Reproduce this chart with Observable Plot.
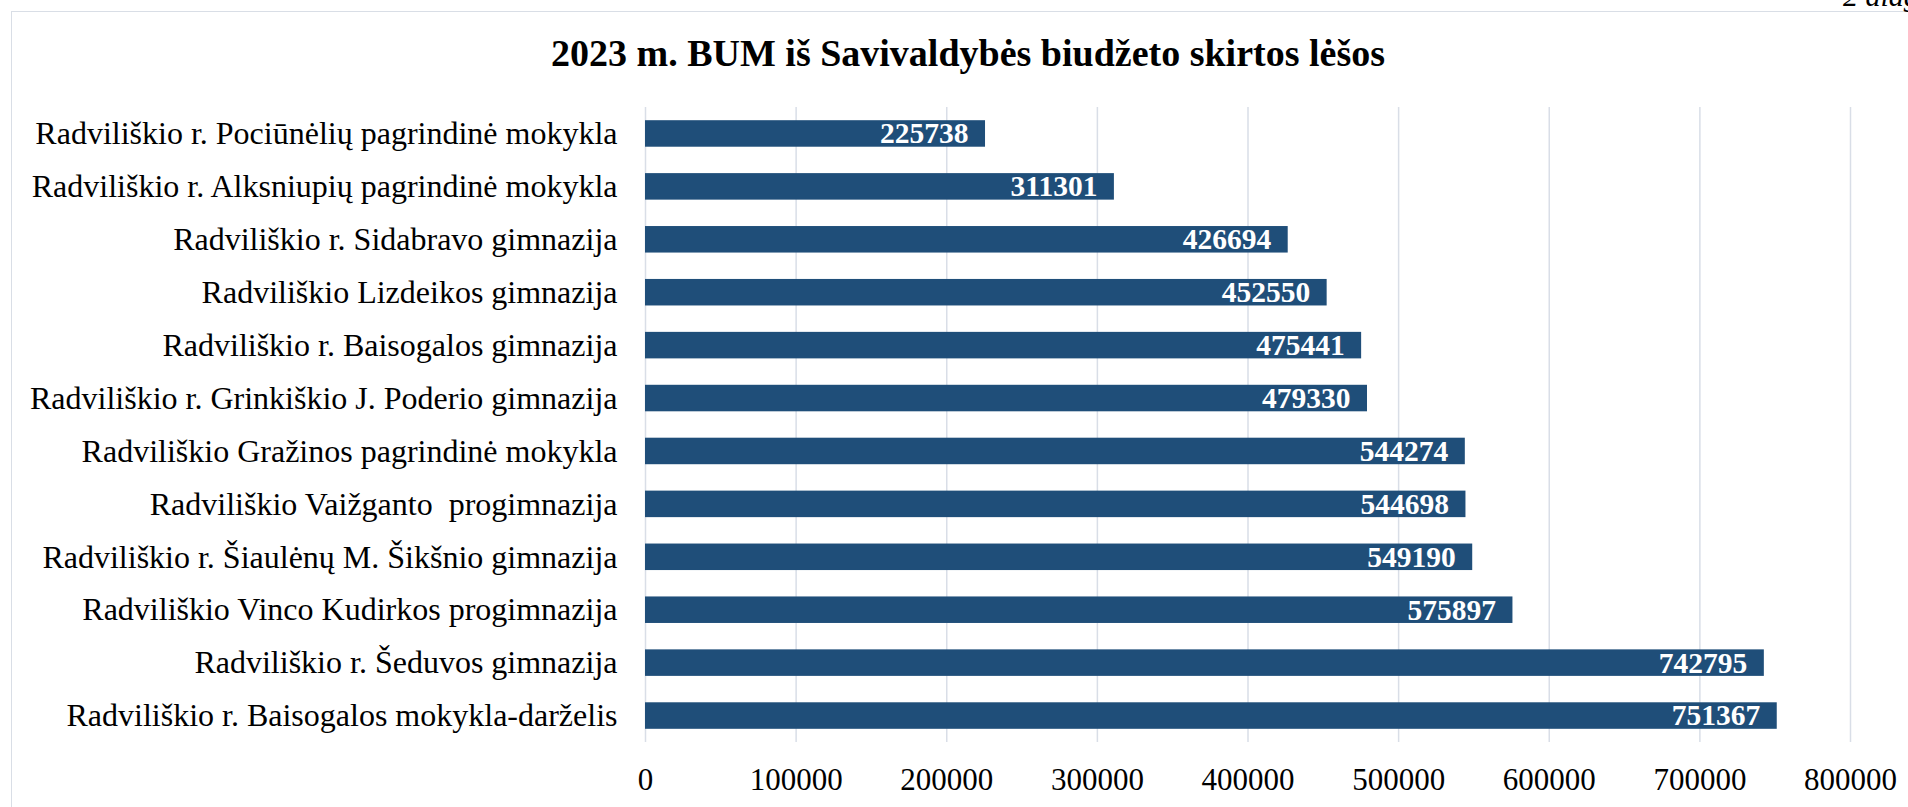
<!DOCTYPE html>
<html>
<head>
<meta charset="utf-8">
<script src="https://cdn.jsdelivr.net/npm/d3@7"></script>
<script src="https://cdn.jsdelivr.net/npm/@observablehq/plot@0.6"></script>
<style>
  html, body { margin: 0; padding: 0; background: #fff; }
  #page { position: relative; width: 1908px; height: 807px; overflow: hidden; background: #fff;
          font-family: "Liberation Serif", "Times New Roman", serif; }
  #frame { position: absolute; left: 11px; top: 11px; width: 2000px; height: 900px;
           border-left: 1.5px solid #d9dee6; border-top: 1.5px solid #d9dee6; box-sizing: border-box; }
  #note { position: absolute; left: 1843px; top: -19px; font: italic 30px "Liberation Serif", serif;
          line-height: 30px; white-space: nowrap; color: #000; }
  #title { position: relative; width: 1908px; box-sizing: border-box; padding-left: 28px;
           padding-top: 34px; height: 90px; text-align: center; font-weight: bold; font-size: 38px;
           line-height: 38px; color: #000; }
  #chart { position: relative; height: 717px; }
  #chart svg { display: block; }
  #chart svg text { white-space: pre; }
</style>
</head>
<body>
<div id="page">
  <div id="frame"></div>
  <div id="note">2 diagrama</div>
  <div id="title">2023 m. BUM iš Savivaldybės biudžeto skirtos lėšos</div>
  <div id="chart"></div>
</div>
<script>
const names = [
  "Radviliškio r. Pociūnėlių pagrindinė mokykla",
  "Radviliškio r. Alksniupių pagrindinė mokykla",
  "Radviliškio r. Sidabravo gimnazija",
  "Radviliškio Lizdeikos gimnazija",
  "Radviliškio r. Baisogalos gimnazija",
  "Radviliškio r. Grinkiškio J. Poderio gimnazija",
  "Radviliškio Gražinos pagrindinė mokykla",
  "Radviliškio Vaižganto  progimnazija",
  "Radviliškio r. Šiaulėnų M. Šikšnio gimnazija",
  "Radviliškio Vinco Kudirkos progimnazija",
  "Radviliškio r. Šeduvos gimnazija",
  "Radviliškio r. Baisogalos mokykla-darželis"
];
const values = [225738, 311301, 426694, 452550, 475441, 479330, 544274, 544698, 549190, 575897, 742795, 751367];
const xTicks = [0, 100000, 200000, 300000, 400000, 500000, 600000, 700000, 800000];

const data = names.map((name, i) => ({name, value: values[i]}));

const barColor = "#1f4e79";
const gridColor = "#d9dee7";

const chart = Plot.plot({
  width: 1908,
  height: 717,
  marginLeft: 645,
  marginRight: 58,
  marginTop: 17,
  marginBottom: 65,
  style: {fontFamily: '"Liberation Serif", "Times New Roman", serif', color: "#000", background: "transparent", overflow: "visible"},
  x: {domain: [0, 800000], label: null},
  y: {domain: names, padding: 0, round: false, label: null},
  marks: [
    Plot.ruleX(xTicks, {stroke: gridColor, strokeWidth: 1.5}),
    Plot.barX(data, {x: "value", y: "name", fill: barColor, insetTop: 13.2, insetBottom: 13.2}),
    Plot.text(data, {x: "value", y: "name", text: d => String(d.value), textAnchor: "end", dx: -17,
                     fill: "white", fontWeight: "bold", fontSize: 29.5}),
    Plot.axisY({tickSize: 0, tickPadding: 28, fontSize: 32, label: null}),
    Plot.axisX(xTicks, {tickSize: 0, tickPadding: 25, fontSize: 31, tickFormat: d3.format("d"), label: null})
  ]
});
document.getElementById("chart").appendChild(chart);
</script>
</body>
</html>
